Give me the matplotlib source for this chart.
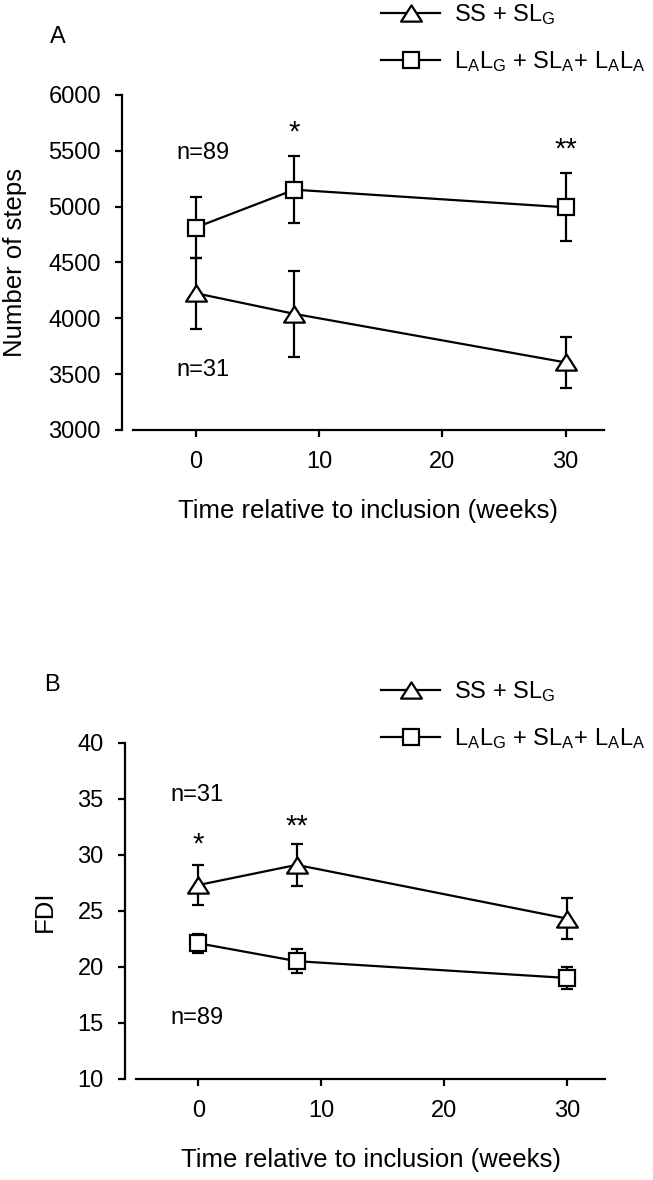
import matplotlib
matplotlib.use("Agg")
import matplotlib.pyplot as plt
from matplotlib.lines import Line2D
from matplotlib.path import Path

plt.rcParams["font.family"] = ["Liberation Sans", "DejaVu Sans"]
plt.rcParams["mathtext.default"] = "regular"
plt.rcParams["font.size"] = 17

# data
weeks = [0, 8, 30]

steps_ss = [4225, 4040, 3605]
steps_ss_se = [318, 388, 232]
steps_la = [4813, 5152, 4994]
steps_la_se = [270, 302, 305]

fdi_ss = [27.3, 29.1, 24.3]
fdi_ss_se = [1.75, 1.86, 1.82]
fdi_la = [22.1, 20.5, 19.0]
fdi_la_se = [0.85, 1.1, 0.95]

label_ss = "SS + SL$_G$"
label_la = "L$_A$L$_G$ + SL$_A$+ L$_A$L$_A$"

fs = 17
fs_lab = 18.5

# wide flat triangle like the original
tri = Path([(-1, -0.78), (1, -0.78), (0, 0.78), (-1, -0.78)],
           [Path.MOVETO, Path.LINETO, Path.LINETO, Path.CLOSEPOLY])

lw = 1.6
tri_kw = dict(marker=tri, ms=15, mfc="white", mec="black", mew=lw)
sq_kw = dict(marker="s", ms=12, mfc="white", mec="black", mew=lw)


def draw_series(ax, y, err, mkw):
    ax.errorbar(weeks, y, yerr=err, fmt="none", ecolor="black",
                elinewidth=lw, capsize=4, capthick=lw, zorder=2)
    ax.plot(weeks, y, color="black", lw=lw, zorder=3, **mkw)


def style_axes(ax, ylim, yticks, ylabel):
    ax.set_xlim(-5.1, 33.1)
    ax.set_ylim(*ylim)
    ax.set_xticks([0, 10, 20, 30])
    ax.set_yticks(yticks)
    for s in ("top", "right"):
        ax.spines[s].set_visible(False)
    ax.spines["left"].set_position(("outward", 8))
    ax.spines["left"].set_linewidth(lw)
    ax.spines["bottom"].set_linewidth(lw)
    ax.tick_params(width=lw, length=5, pad=10, labelsize=fs)
    ax.set_xlabel("Time relative to inclusion (weeks)", fontsize=fs_lab, labelpad=19)
    ax.set_ylabel(ylabel, fontsize=fs_lab, labelpad=15)


def add_legend(fig, top_px):
    handles = [Line2D([], [], color="black", lw=lw, **tri_kw),
               Line2D([], [], color="black", lw=lw, **sq_kw)]
    fig.legend(handles, [label_ss, label_la], loc="upper left",
               bbox_to_anchor=(381 / 653, 1 - top_px / 1180),
               frameon=False, borderpad=0, borderaxespad=0,
               handlelength=2.5, handletextpad=0.6, labelspacing=0.95,
               fontsize=fs)


fig = plt.figure(figsize=(6.53, 11.8), dpi=100)

# panel A
axA = fig.add_axes([0.2034, 0.6356, 0.7213, 0.2839])
draw_series(axA, steps_ss, steps_ss_se, tri_kw)
draw_series(axA, steps_la, steps_la_se, sq_kw)
style_axes(axA, (3000, 6000), range(3000, 6001, 500), "Number of steps")
axA.text(8, 5660, "*", ha="center", va="center", fontsize=21)
axA.text(30, 5510, "**", ha="center", va="center", fontsize=21)
axA.text(-1.6, 5480, "n=89", ha="left", va="center", fontsize=fs)
axA.text(-1.6, 3540, "n=31", ha="left", va="center", fontsize=fs)
fig.text(58 / 653, 1 - 37 / 1180, "A", ha="center", va="center", fontsize=fs)
add_legend(fig, 2)

# panel B
axB = fig.add_axes([0.2077, 0.0858, 0.7194, 0.2847])
draw_series(axB, fdi_ss, fdi_ss_se, tri_kw)
draw_series(axB, fdi_la, fdi_la_se, sq_kw)
style_axes(axB, (10, 40), range(10, 41, 5), "FDI")
axB.text(0, 30.9, "*", ha="center", va="center", fontsize=21)
axB.text(8, 32.5, "**", ha="center", va="center", fontsize=21)
axB.text(-2.3, 35.3, "n=31", ha="left", va="center", fontsize=fs)
axB.text(-2.3, 15.4, "n=89", ha="left", va="center", fontsize=fs)
fig.text(52 / 653, 1 - 685 / 1180, "B", ha="center", va="center", fontsize=fs)
add_legend(fig, 679)

fig.savefig("out.png", dpi=100)
